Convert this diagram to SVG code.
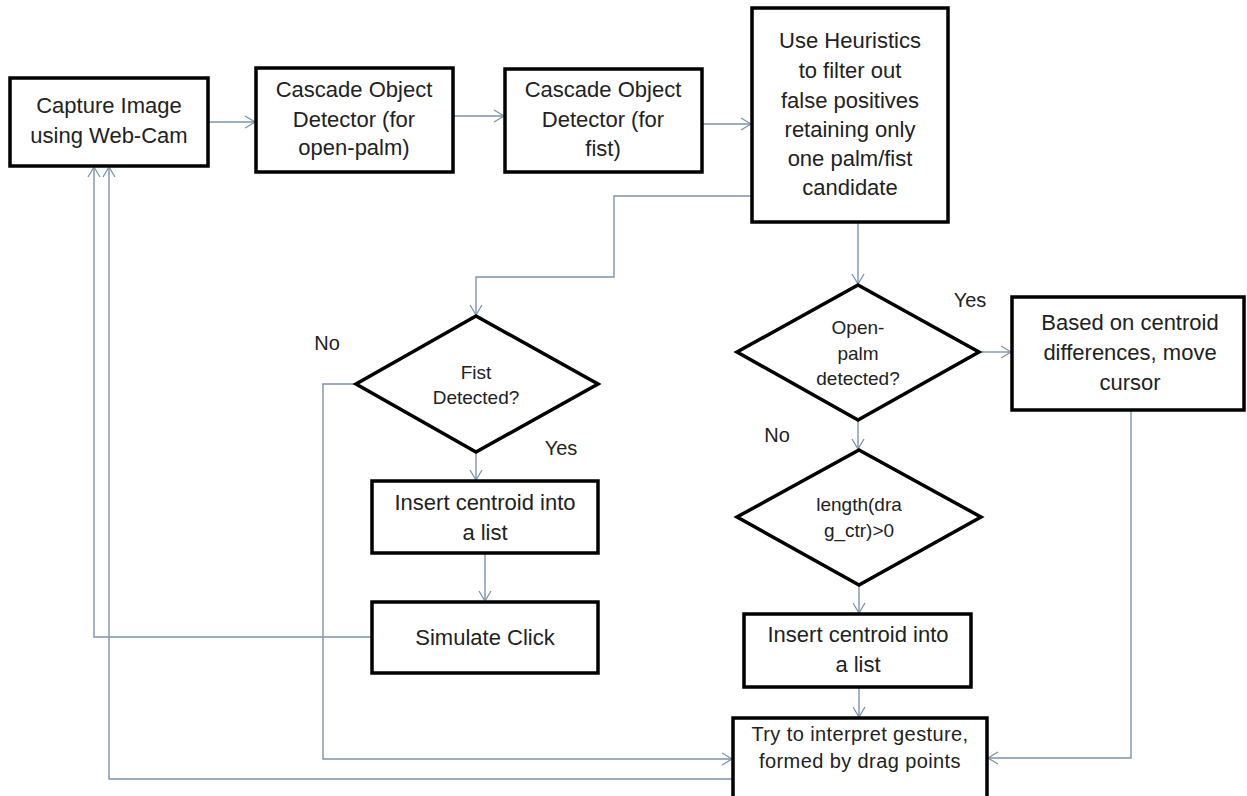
<svg xmlns="http://www.w3.org/2000/svg" width="1247" height="796" viewBox="0 0 1247 796">
<defs>
<marker id="arr" markerUnits="userSpaceOnUse" markerWidth="14" markerHeight="14" refX="11" refY="7" orient="auto">
<path d="M1,1 L11,7 L1,13" fill="none" stroke="#7d93ad" stroke-width="1.3"/>
</marker>
<style>
.box{fill:#fff;stroke:#000;stroke-width:3.5}
.c{fill:none;stroke:#7d93ad;stroke-width:1.4}
.a{marker-end:url(#arr)}
text{font-family:"Liberation Sans",Arial,sans-serif;fill:#222;text-anchor:middle}
.t{font-size:22px}
.d{font-size:19px}
.s{font-size:20px;letter-spacing:0.4px}
.l{font-size:20px}
</style>
</defs>
<rect width="1247" height="796" fill="#fff"/>
<g id="connectors">
<path class="c a" d="M208,122 H255"/>
<path class="c a" d="M453,116 H504"/>
<path class="c a" d="M702,124 H751"/>
<path class="c a" d="M752,196 H614 V277 H476 V315"/>
<path class="c a" d="M858,222 V284"/>
<path class="c a" d="M979,352 H1011"/>
<path class="c a" d="M858,420 V449"/>
<path class="c a" d="M859,585 V613"/>
<path class="c a" d="M859,687 V717"/>
<path class="c a" d="M1131,410 V758 H988"/>
<path class="c a" d="M476,452 V480"/>
<path class="c a" d="M485,553 V601"/>
<path class="c a" d="M356,384 H323 V759 H732"/>
<path class="c a" d="M372,637 H94 V167"/>
<path class="c a" d="M733,779 H109 V167"/>
</g>
<g id="capture">
<rect class="box" x="10" y="78" width="198" height="88"/>
<text class="t" x="109" y="113">Capture Image</text>
<text class="t" x="109" y="143">using Web-Cam</text>
</g>
<g id="cascade1">
<rect class="box" x="256" y="68" width="197" height="104"/>
<text class="t" x="354" y="97">Cascade Object</text>
<text class="t" x="354" y="127">Detector (for</text>
<text class="t" x="354" y="155">open-palm)</text>
</g>
<g id="cascade2">
<rect class="box" x="505" y="69" width="197" height="103"/>
<text class="t" x="603" y="97">Cascade Object</text>
<text class="t" x="603" y="127">Detector (for</text>
<text class="t" x="603" y="156">fist)</text>
</g>
<g id="heuristics">
<rect class="box" x="752" y="8" width="196" height="214"/>
<text class="t" x="850" y="48">Use Heuristics</text>
<text class="t" x="850" y="78">to filter out</text>
<text class="t" x="850" y="108">false positives</text>
<text class="t" x="850" y="137">retaining only</text>
<text class="t" x="850" y="166">one palm/fist</text>
<text class="t" x="850" y="195">candidate</text>
</g>
<g id="fist">
<polygon class="box" points="476,316 598,384 476,452 356,384"/>
<text class="d" x="476" y="379">Fist</text>
<text class="d" x="476" y="404">Detected?</text>
</g>
<g id="openpalm">
<polygon class="box" points="858,285 979,352 858,420 737,352"/>
<text class="d" x="858" y="334">Open-</text>
<text class="d" x="858" y="360">palm</text>
<text class="d" x="858" y="385">detected?</text>
</g>
<g id="based">
<rect class="box" x="1012" y="297" width="232" height="113"/>
<text class="t" x="1130" y="330">Based on centroid</text>
<text class="t" x="1130" y="360">differences, move</text>
<text class="t" x="1130" y="390">cursor</text>
</g>
<g id="length">
<polygon class="box" points="859,450 981,517 859,585 737,517"/>
<text class="d" x="859" y="511">length(dra</text>
<text class="d" x="859" y="537">g_ctr)&gt;0</text>
</g>
<g id="insert1">
<rect class="box" x="372" y="481" width="226" height="72"/>
<text class="t" x="485" y="510">Insert centroid into</text>
<text class="t" x="485" y="540">a list</text>
</g>
<g id="simulate">
<rect class="box" x="372" y="602" width="226" height="71"/>
<text class="t" x="485" y="645">Simulate Click</text>
</g>
<g id="insert2">
<rect class="box" x="744" y="614" width="227" height="73"/>
<text class="t" x="858" y="642">Insert centroid into</text>
<text class="t" x="858" y="672">a list</text>
</g>
<g id="try">
<rect class="box" x="733" y="718" width="254" height="92"/>
<text class="s" x="860" y="741">Try to interpret gesture,</text>
<text class="s" x="860" y="768">formed by drag points</text>
</g>
<g id="labels">
<text class="l" x="327" y="350">No</text>
<text class="l" x="561" y="455">Yes</text>
<text class="l" x="970" y="307">Yes</text>
<text class="l" x="777" y="442">No</text>
</g>
</svg>
